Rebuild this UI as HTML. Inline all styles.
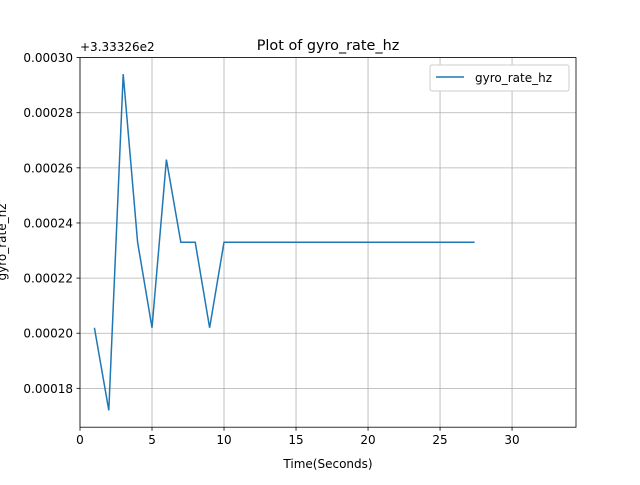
<!DOCTYPE html>
<html><head><meta charset="utf-8"><style>
body{margin:0;background:#fff;}
svg text{font-family:"DejaVu Sans","Liberation Sans",sans-serif;fill:#000;}
</style></head><body>
<svg width="640" height="480" xmlns="http://www.w3.org/2000/svg">
<rect width="640" height="480" fill="#fff"/>
<g id="grid"></g>
<g id="ticks"></g>
<polyline id="line" fill="none" stroke="#1f77b4" stroke-width="1.5"/>
<rect x="80" y="57.6" width="496" height="369.6" fill="none" stroke="#000" stroke-width="0.8"/>
<text x="328" y="50" font-size="14.4" text-anchor="middle">Plot of gyro_rate_hz</text>
<text x="328" y="468" font-size="12" text-anchor="middle">Time(Seconds)</text>
<text x="0" y="0" font-size="12" text-anchor="middle" transform="translate(6,242) rotate(-90)">gyro_rate_hz</text>
<text x="80" y="51" font-size="12">+3.33326e2</text>
<g>
<rect x="430" y="65" width="139" height="26" rx="2" fill="#fff" stroke="#ccc" stroke-width="1"/>
<line x1="436" y1="77" x2="464" y2="77" stroke="#1f77b4" stroke-width="1.5"/>
<text x="475" y="82" font-size="12">gyro_rate_hz</text>
</g>
</svg>
<script>
const xs=[1,2,3,4,5,6,7,8,9,10,11,12,13,14,15,16,17,18,19,20,21,22,23,24,25,26,27,27.4];
const ys=[0.000202,0.000172,0.000294,0.000233,0.000202,0.000263,0.000233,0.000233,0.000202,0.000233,0.000233,0.000233,0.000233,0.000233,0.000233,0.000233,0.000233,0.000233,0.000233,0.000233,0.000233,0.000233,0.000233,0.000233,0.000233,0.000233,0.000233,0.000233];
const xTicks=[0,5,10,15,20,25,30];
const yTicks=[0.00018,0.00020,0.00022,0.00024,0.00026,0.00028,0.00030];
const X0=80,X1=576,Y0=427.2,Y1=57.6,xmin=0,xmax=34.44,ymin=0.0001659,ymax=0.0003;
const sx=v=>X0+(v-xmin)/(xmax-xmin)*(X1-X0);
const sy=v=>Y0-(v-ymin)/(ymax-ymin)*(Y0-Y1);
const NS="http://www.w3.org/2000/svg";
const grid=document.getElementById('grid'),tk=document.getElementById('ticks');
function mk(tag,attrs,parent){const e=document.createElementNS(NS,tag);for(const k in attrs)e.setAttribute(k,attrs[k]);parent.appendChild(e);return e;}
xTicks.forEach(t=>{const x=sx(t);
const g=mk('line',{x1:x,x2:x,y1:Y1,y2:Y0,stroke:'#b0b0b0','stroke-width':0.8},grid);


mk('line',{x1:x,x2:x,y1:Y0,y2:Y0+3.5,stroke:'#000','stroke-width':0.8},tk);
const l=mk('text',{x:x,y:Y0+17,'font-size':12,'text-anchor':'middle'},tk);l.textContent=t;

});
yTicks.forEach(t=>{const y=sy(t);
const g=mk('line',{x1:X0,x2:X1,y1:y,y2:y,stroke:'#b0b0b0','stroke-width':0.8},grid);


mk('line',{x1:X0-3.5,x2:X0,y1:y,y2:y,stroke:'#000','stroke-width':0.8},tk);
const l=mk('text',{x:X0-7,y:y+4.5,'font-size':12,'text-anchor':'end'},tk);l.textContent=t.toFixed(5);

});
document.getElementById('line').setAttribute('points',xs.map((x,i)=>sx(x)+','+sy(ys[i])).join(' '));
</script>
</body></html>
